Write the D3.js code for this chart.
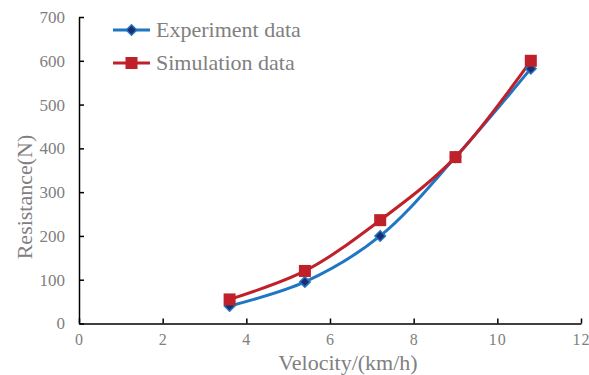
<!DOCTYPE html>
<html>
<head>
<meta charset="utf-8">
<script src="https://cdn.jsdelivr.net/npm/d3@7"></script>
<style>
  body { margin: 0; background: #fff; }
  text { font-family: "Liberation Serif", "Times New Roman", serif; fill: #808080; }
</style>
</head>
<body>
<script>
// data
const velocity = [3.6, 5.4, 7.2, 9.0, 10.8];
const experiment = [40, 95, 200, 380, 582];
const simulation = [55, 120, 236, 380, 600];
const xTicks = [0, 2, 4, 6, 8, 10, 12];
const yTicks = [0, 100, 200, 300, 400, 500, 600, 700];

const width = 589, height = 375;
const margin = { left: 79, right: 8, top: 17, bottom: 52 };

const svg = d3.select('body').append('svg')
  .attr('width', width)
  .attr('height', height);

const x = d3.scaleLinear().domain([0, 12]).range([margin.left, 581]);
const y = d3.scaleLinear().domain([0, 700]).range([323.5, margin.top]);

// x axis
const xAxis = svg.append('g')
  .attr('transform', `translate(0,${y(0)})`)
  .call(d3.axisBottom(x).tickValues(xTicks).tickSizeInner(-5).tickSizeOuter(0).tickPadding(10));
xAxis.select('.domain').attr('stroke', '#000').attr('stroke-width', 1.5);
xAxis.selectAll('.tick line').attr('stroke', '#000').attr('stroke-width', 1.5);
xAxis.selectAll('.tick text')
  .style('font-size', '16px')
  .style('letter-spacing', '1px')
  .attr('fill', '#808080');

// y axis
const yAxis = svg.append('g')
  .attr('transform', `translate(${x(0)},0)`)
  .call(d3.axisLeft(y).tickValues(yTicks).tickSizeInner(-5).tickSizeOuter(0).tickPadding(14));
yAxis.select('.domain').attr('stroke', '#000').attr('stroke-width', 1.5);
yAxis.selectAll('.tick line').attr('stroke', '#000').attr('stroke-width', 1.5);
yAxis.selectAll('.tick text').style('font-size', '17px').attr('fill', '#808080');

// axis titles
svg.append('text')
  .attr('x', 348).attr('y', 370)
  .attr('text-anchor', 'middle')
  .style('font-size', '22px')
  .text('Velocity/(km/h)');

svg.append('text')
  .attr('transform', 'translate(32,197) rotate(-90)')
  .attr('text-anchor', 'middle')
  .style('font-size', '22px')
  .text('Resistance(N)');

const line = d3.line()
  .x(d => x(d[0]))
  .y(d => y(d[1]))
  .curve(d3.curveCatmullRom.alpha(0.5));

const expColor = '#1f77c4', expMarker = '#1f2d6e';
const simColor = '#c0202a';

const expPts = velocity.map((v, i) => [v, experiment[i]]);
const simPts = velocity.map((v, i) => [v, simulation[i]]);

svg.append('path').datum(expPts)
  .attr('d', line).attr('fill', 'none')
  .attr('stroke', expColor).attr('stroke-width', 3);

svg.append('path').datum(simPts)
  .attr('d', line).attr('fill', 'none')
  .attr('stroke', simColor).attr('stroke-width', 3);

const diamond = d3.symbol().type(d3.symbolDiamond2).size(70);

svg.selectAll('.exp').data(expPts).enter().append('path')
  .attr('d', diamond)
  .attr('transform', d => `translate(${x(d[0])},${y(d[1])})`)
  .attr('fill', expMarker).attr('stroke', expColor).attr('stroke-width', 1.5);

svg.selectAll('.sim').data(simPts).enter().append('rect')
  .attr('x', d => x(d[0]) - 6).attr('y', d => y(d[1]) - 6)
  .attr('width', 12).attr('height', 12)
  .attr('fill', simColor);

// legend
const legend = [
  { name: 'Experiment data', color: expColor, marker: 'diamond', y: 30 },
  { name: 'Simulation data', color: simColor, marker: 'square', y: 63 }
];
legend.forEach(l => {
  svg.append('line')
    .attr('x1', 113).attr('x2', 150).attr('y1', l.y).attr('y2', l.y)
    .attr('stroke', l.color).attr('stroke-width', 3);
  if (l.marker === 'diamond') {
    svg.append('path').attr('d', diamond)
      .attr('transform', `translate(131.5,${l.y})`)
      .attr('fill', expMarker).attr('stroke', expColor).attr('stroke-width', 1.5);
  } else {
    svg.append('rect')
      .attr('x', 125.5).attr('y', l.y - 6).attr('width', 12).attr('height', 12)
      .attr('fill', simColor);
  }
  svg.append('text')
    .attr('x', 156).attr('y', l.y + 7)
    .style('font-size', '22px')
    .text(l.name);
});
</script>
</body>
</html>
